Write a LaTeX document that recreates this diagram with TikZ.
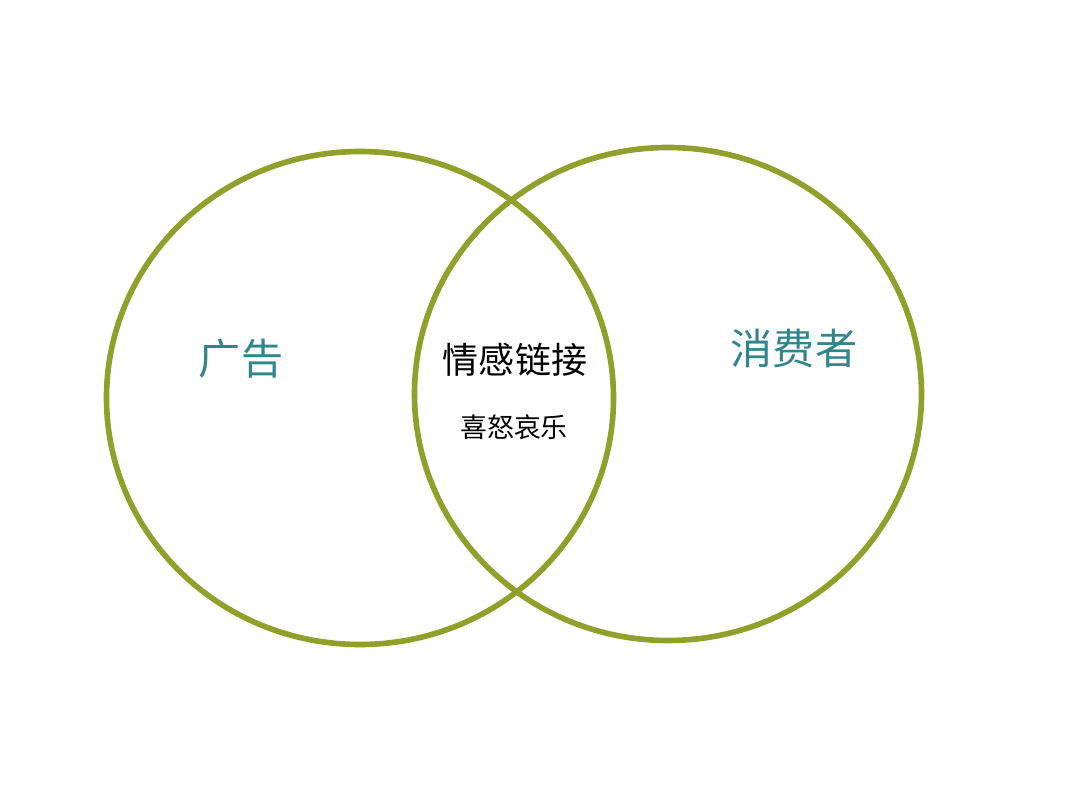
\documentclass[tikz,border=0pt]{standalone}
\usepackage{fontspec}
\setmainfont{Noto Sans CJK SC}
\usetikzlibrary{positioning, shapes.geometric}
\definecolor{olive}{RGB}{143,160,43}
\definecolor{tealtext}{RGB}{49,133,140}
\newlength{\pxu}
\setlength{\pxu}{0.02cm}
\tikzset{
  ring/.style={draw=olive, line width=3.2pt, ellipse, inner sep=0pt,
    minimum width=507\pxu, minimum height=493\pxu},
  side/.style={text=tealtext, font=\fontsize{24}{27}\selectfont, inner sep=0pt},
  core/.style={text=black, font=\fontsize{20.5}{24}\selectfont, inner sep=0pt},
  sub/.style={text=black, font=\fontsize{15.3}{18}\selectfont, inner sep=0pt},
}

\begin{document}
\begin{tikzpicture}[x=0.02cm, y=-0.02cm]
    \useasboundingbox (0,0) rectangle (1080,810);
    \node[ring] (adv) at (360,398) {};
    \node[ring] (con) at (668,394) {};
    \node[side] (advlabel) at (241,359) {广告};
    \node[side] (conlabel) at (794,348) {消费者};
    \node[core] (link) at (515,360) {情感链接};
    \node[sub] (mood) at (514,427) {喜怒哀乐};
  \end{tikzpicture}
\end{document}
